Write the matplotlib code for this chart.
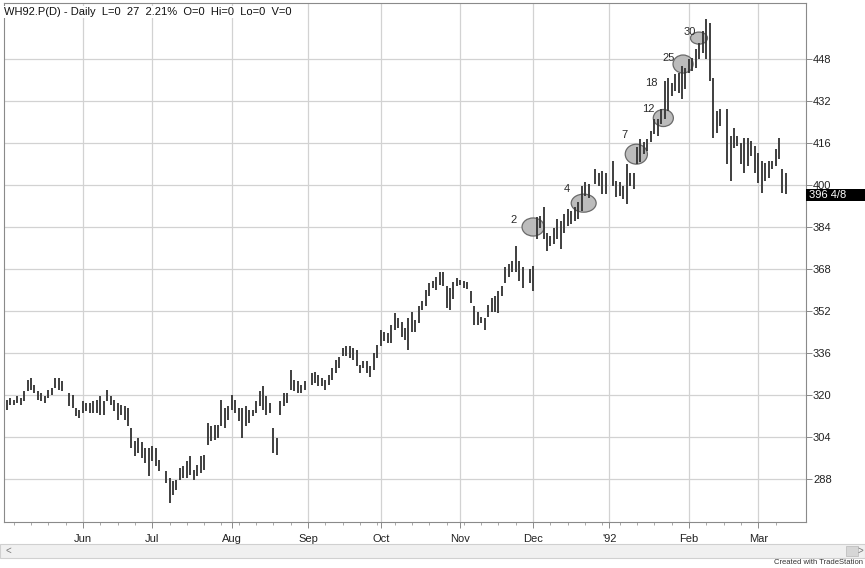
import matplotlib
matplotlib.use("Agg")
import matplotlib.pyplot as plt
from matplotlib.patches import Ellipse, Rectangle
import numpy as np
import pandas as pd

plt.rcParams['font.family'] = ['Liberation Sans', 'DejaVu Sans']

# ---- data: daily high / low, one value per trading day (May 2 1991 - Mar 12 1992)
highs = [
    318.1, 318.7, 318.1, 319.4, 318.7, 321.3, 325.7, 326.4, 323.8, 321.3, 320.6, 319.4, 321.9, 322.5, 326.4, 326.4, 325.1,
    320.6, 320.0, 314.9, 314.3, 317.5, 316.8, 316.8, 317.5, 318.1, 319.4, 317.5, 321.9, 319.4, 318.1, 316.8, 316.2,
    315.5, 314.9, 307.3, 302.2, 303.5, 302.0, 299.6, 299.6, 300.3, 299.6, 295.2,
    290.7, 288.2, 286.9, 287.5, 292.0, 292.6, 294.6, 296.5, 291.4, 293.3, 296.5, 297.1, 309.2, 307.9, 308.5, 308.5,
    318.1, 314.9, 315.5, 320.0, 318.1, 314.9, 314.9, 315.5, 314.3, 314.3, 317.5, 321.3, 323.2, 319.4, 316.8, 307.3,
    303.5, 317.5, 320.6, 320.6, 329.5, 325.7, 325.1, 323.8, 325.1,
    328.3, 328.5, 327.6, 326.4, 325.7, 327.6, 330.2, 333.4, 334.5, 337.8, 338.4, 338.4, 337.8, 337.1, 331.4, 332.7,
    332.7, 330.8, 335.8, 339.0, 344.7, 344.1, 343.5, 346.7, 351.1, 349.2, 347.9, 345.4, 349.2, 351.7, 348.6, 353.7,
    355.6, 360.0, 362.6, 363.2, 365.1, 367.0, 367.0, 361.3, 360.7, 363.0, 364.5, 363.8, 363.2, 363.0, 359.4, 353.7,
    351.7, 349.8, 349.2, 354.3, 356.8, 357.5, 359.5, 361.6, 368.6, 369.8, 371.1, 376.8, 371.1, 368.6,
    367.9, 369.2, 387.7, 388.3, 391.5, 381.9, 380.7, 383.8, 387.0, 386.4, 388.9, 390.8, 390.2, 391.5, 393.4, 399.7,
    401.0, 400.5,
    406.1, 404.8, 405.5, 404.8,
    409.3, 401.7, 401.0, 399.7, 408.0, 404.8, 404.8, 414.4, 417.6, 416.3, 417.6, 420.7, 425.2, 425.2, 428.9, 439.7,
    441.0, 439.1, 442.3, 442.9, 445.5, 444.8, 448.0, 448.6, 451.8, 454.4, 458.8, 463.3, 462.0, 441.0, 428.3, 428.9,
    428.9, 418.7, 421.9, 418.7, 416.2, 418.1, 418.1, 416.8, 414.9, 412.4, 409.2, 408.6, 409.2, 409.2, 413.6, 418.1,
    406.0, 404.7,
]
lows = [
    314.3, 316.2, 316.2, 316.8, 316.2, 317.5, 321.3, 321.9, 320.6, 318.1, 317.5, 316.8, 318.7, 320.0, 322.5, 321.9, 321.3,
    315.5, 314.9, 311.7, 311.1, 313.0, 313.6, 313.0, 313.0, 313.0, 312.4, 312.4, 317.5, 316.2, 313.6, 310.5, 312.4,
    310.5, 307.9, 299.6, 296.5, 297.7, 296.0, 293.9, 288.8, 294.6, 292.6, 290.7,
    286.3, 278.7, 281.8, 283.7, 287.5, 288.2, 288.2, 289.5, 287.5, 288.8, 290.1, 291.4, 300.9, 302.2, 302.8, 303.5,
    307.9, 307.3, 310.5, 314.3, 313.0, 309.8, 303.5, 307.9, 309.2, 311.7, 313.0, 315.5, 314.3, 312.4, 313.0, 297.7,
    297.1, 312.4, 315.5, 316.8, 321.9, 321.3, 320.6, 320.6, 321.9,
    323.8, 324.5, 323.2, 323.2, 321.9, 323.8, 325.7, 328.3, 330.0, 334.6, 334.6, 333.9, 333.3, 330.8, 328.2, 330.1,
    328.2, 326.9, 329.5, 333.9, 338.4, 340.3, 339.7, 339.7, 344.7, 345.4, 342.2, 340.9, 337.1, 344.1, 344.1, 347.3,
    352.4, 353.7, 357.5, 360.7, 360.0, 362.0, 361.3, 353.0, 352.4, 356.5, 361.3, 361.9, 360.7, 360.5, 354.9, 346.7,
    346.7, 347.3, 344.7, 349.8, 351.7, 351.7, 351.0, 357.8, 362.8, 364.8, 366.7, 367.0, 363.5, 360.9,
    362.8, 359.7, 379.4, 383.8, 379.4, 374.9, 376.8, 377.5, 379.4, 375.6, 381.9, 384.5, 385.1, 386.4, 387.0, 390.2,
    395.9, 395.0,
    400.4, 399.7, 396.6, 396.6,
    399.7, 395.3, 395.9, 394.7, 392.7, 399.7, 398.5, 408.0, 408.7, 411.8, 413.1, 416.3, 419.5, 418.8, 423.2, 425.1,
    428.3, 434.0, 435.9, 435.3, 432.7, 436.5, 442.9, 443.5, 444.8, 448.0, 450.5, 448.0, 439.7, 418.1, 420.0, 422.6,
    407.9, 401.6, 414.3, 414.9, 407.9, 404.7, 407.3, 411.1, 404.7, 400.9, 397.1, 401.6, 402.8, 406.0, 407.3, 409.8,
    397.1, 396.5,
]
holidays = ['1991-05-27', '1991-07-04', '1991-09-02', '1991-11-28', '1991-12-25', '1992-01-01', '1992-02-17']
price_ticks = [288, 304, 320, 336, 352, 368, 384, 400, 416, 432, 448]
last_price = "396 4/8"
title = "WH92.P(D) - Daily  L=0  27  2.21%  O=0  Hi=0  Lo=0  V=0"

# circled count labels: (text, label x, label y, circle x, circle y, circle w, circle h); x in bar slots
counts = [
    ("2", 146.4, 386.6, 152.0, 384.0, 6.4, 6.9),
    ("4", 161.6, 398.5, 166.6, 393.1, 7.2, 6.9),
    ("7", 178.3, 419.1, 181.8, 411.8, 6.4, 7.6),
    ("12", 185.3, 429.0, 189.6, 425.6, 5.8, 6.5),
    ("18", 186.2, 438.9, None, None, 0, 0),
    ("25", 191.1, 448.5, 195.3, 446.2, 5.8, 6.9),
    ("30", 197.2, 458.4, 199.9, 456.1, 4.9, 4.6),
]

# weekday calendar: holidays keep an empty slot, like the original chart
all_days = pd.bdate_range('1991-05-02', '1992-03-12')
trade_days = all_days.difference(pd.to_datetime(holidays))
x = all_days.get_indexer(trade_days)

month_pos = [i for i in range(1, len(all_days)) if all_days[i].month != all_days[i - 1].month]
month_lab = ["'92" if all_days[i].month == 1 else all_days[i].strftime('%b') for i in month_pos]
monday_pos = [i for i in range(len(all_days)) if all_days[i].weekday() == 0]

W, H = 865, 568
fig = plt.figure(figsize=(W / 100, H / 100), dpi=100)
fig.patch.set_facecolor('white')

def fx(px):
    return px / W

def fy(py):
    return 1 - py / H

ax = fig.add_axes([fx(4), fy(522), fx(806) - fx(4), fy(3) - fy(522)])
ax.set_xlim(-0.8, 230.8)
ax.set_ylim(271.4, 469.5)

# grid
for p in price_ticks:
    ax.axhline(p, color='#d2d2d2', lw=0.9, zorder=0)
for m in month_pos:
    ax.axvline(m, color='#d2d2d2', lw=0.9, zorder=0)

# circles under the bars
for txt, lx, ly, cx, cy, cw, ch in counts:
    if cx is not None:
        ax.add_patch(Ellipse((cx, cy), cw, ch, facecolor='#bcbcbc', edgecolor='#6a6a6a',
                             lw=0.9, zorder=1))
    ax.text(lx, ly, txt, fontsize=8, color='#2a2a2a', ha='center', va='center', zorder=4)

# price bars
ax.vlines(x, lows, highs, color='#383838', lw=1.35, zorder=3)

for s in ax.spines.values():
    s.set_color('#8a8a8a')
    s.set_linewidth(0.8)

ax.yaxis.tick_right()
ax.set_yticks(price_ticks)
ax.set_yticklabels([str(p) for p in price_ticks])
ax.tick_params(axis='y', length=4, width=0.7, color='#8a8a8a', labelsize=8, pad=1,
               labelcolor='#222222')

ax.set_xticks(month_pos)
ax.set_xticklabels(month_lab)
ax.set_xticks(monday_pos, minor=True)
ax.tick_params(axis='x', which='major', length=4, width=0.7, color='#8a8a8a', labelsize=8,
               pad=5, labelcolor='#222222')
ax.tick_params(axis='x', which='minor', length=2, width=0.6, color='#9a9a9a')

# title in the top-left corner
fig.text(fx(4), fy(12), title, fontsize=8, color='#111111', va='center', ha='left',
         bbox=dict(facecolor='white', edgecolor='none', pad=1))

# last price box
fig.patches.append(Rectangle((fx(806), fy(201)), fx(865) - fx(806), fy(189) - fy(201),
                             transform=fig.transFigure, facecolor='black', edgecolor='none'))
fig.text(fx(809), fy(195), last_price, fontsize=8, color='white', va='center', ha='left')

# scroll bar at the bottom
fig.patches.append(Rectangle((0, fy(558)), 1, fy(544) - fy(558), transform=fig.transFigure,
                             facecolor='#f0f0f0', edgecolor='#d0d0d0', lw=0.8))
fig.patches.append(Rectangle((fx(846), fy(556)), fx(12), fy(546) - fy(556), transform=fig.transFigure,
                             facecolor='#d6d6d6', edgecolor='#c0c0c0', lw=0.6))
fig.text(fx(8), fy(551), '<', fontsize=7, color='#777777', va='center', ha='center')
fig.text(fx(860), fy(551), '>', fontsize=7, color='#777777', va='center', ha='center')
fig.text(fx(863), fy(563), 'Created with TradeStation', fontsize=5.5, color='#333333',
         va='center', ha='right')

fig.savefig('out.png', dpi=100)
